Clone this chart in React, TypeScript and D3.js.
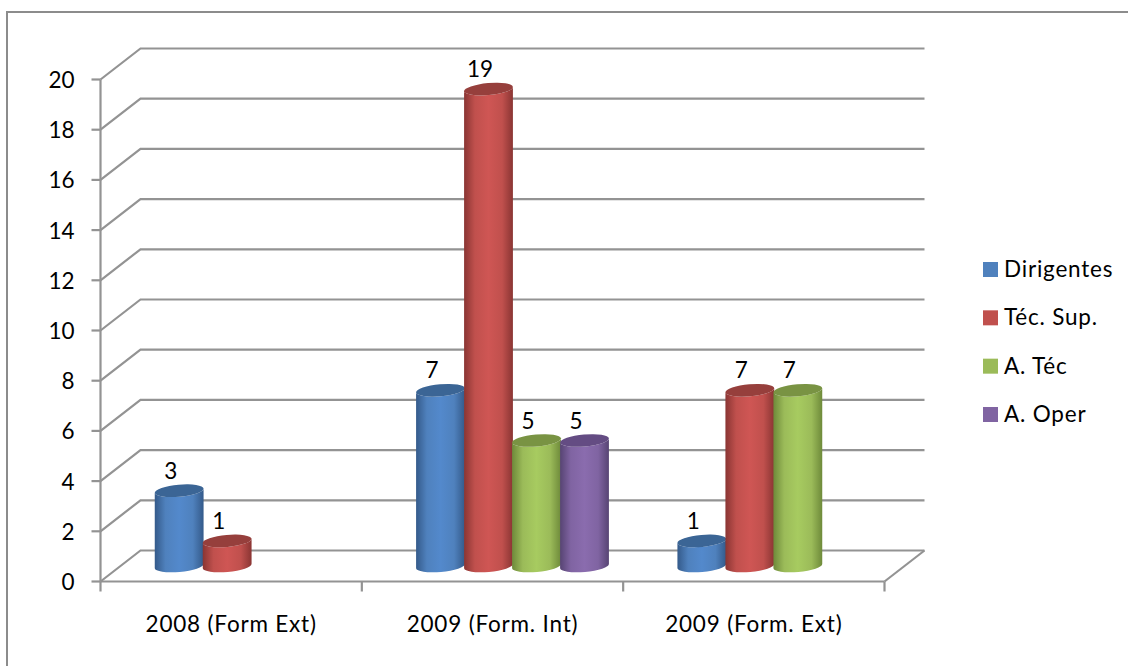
import React from "react";
import * as d3 from "d3";

const categories = ["2008 (Form Ext)", "2009 (Form. Int)", "2009 (Form. Ext)"];
const seriesNames = ["Dirigentes", "Téc. Sup.", "A. Téc", "A. Oper"];
const dirigentes = [3, 7, 1];
const tecSup = [1, 19, 7];
const aTec = [null, 5, 7];
const aOper = [null, 5, null];
const seriesValues = [dirigentes, tecSup, aTec, aOper];
const yTicks = [0, 2, 4, 6, 8, 10, 12, 14, 16, 18, 20];

const baseColors = ["#4f81bd", "#c0504d", "#9bbb59", "#8064a2"];
const lightColors = ["#5389cc", "#cf5654", "#a7cb60", "#8a6cae"];
const darkColors = ["#345a8a", "#8a3533", "#6e8a3a", "#574473"];
const capColors = ["#3b6595", "#963f3c", "#799343", "#644c83"];

const FONT = "Lato, Carlito, Calibri, sans-serif";
const GRID = "#939393";
const DEPTH_X = 40;
const DEPTH_Y = 31;
const SIZE = 22.5;
const SPACING = 0.8;

const y = d3.scaleLinear().domain([0, 20]).range([581.5, 79.5]);
const x = d3.scaleBand<string>().domain(categories).range([100.5, 884.5]);
const slot = d3.scaleBand<number>().domain([0, 1, 2, 3]).range([0, 192]);
const legendY = d3.scalePoint<string>().domain(seriesNames).range([269.5, 414.5]);

// Cylinder caps are ellipses tipped slightly, right side up.
const RY = 6;
const TILT = -5;
const RAD = (TILT * Math.PI) / 180;

function Cylinder({ cx, rx, value, s }: { cx: number; rx: number; value: number; s: number }) {
  const topY = y(value) - DEPTH_Y / 2;
  const botY = y(0) - DEPTH_Y / 2;
  const dx = rx * Math.cos(RAD);
  const dy = rx * Math.sin(RAD);
  const arc = `A${rx} ${RY} ${TILT}`;
  const body =
    `M${cx - dx} ${topY - dy}L${cx - dx} ${botY - dy}` +
    `${arc} 0 0 ${cx + dx} ${botY + dy}L${cx + dx} ${topY + dy}` +
    `${arc} 0 1 ${cx - dx} ${topY - dy}Z`;
  return (
    <g>
      <path d={body} fill={`url(#cyl${s})`} />
      <ellipse
        cx={cx}
        cy={topY}
        rx={rx}
        ry={RY}
        fill={capColors[s]}
        transform={`rotate(${TILT} ${cx} ${topY})`}
      />
    </g>
  );
}

export default function App() {
  const barW = slot.bandwidth();
  const groupLeft = (c: string) =>
    (x(c) as number) + DEPTH_X / 2 + (x.bandwidth() - 192) / 2;

  return (
    <svg
      width={1128}
      height={666}
      style={{ position: "absolute", left: 0, top: 0, background: "#fff" }}
      fontFamily={FONT}
    >
      <defs>
        {baseColors.map((_, s) => (
          <linearGradient key={s} id={`cyl${s}`} x1="0" x2="1" y1="0" y2="0">
            <stop offset="0" stopColor={darkColors[s]} />
            <stop offset="0.22" stopColor={baseColors[s]} />
            <stop offset="0.5" stopColor={lightColors[s]} />
            <stop offset="0.78" stopColor={baseColors[s]} />
            <stop offset="1" stopColor={darkColors[s]} />
          </linearGradient>
        ))}
      </defs>

      {/* Chart frame: only the top and left edges fall inside the page */}
      <path d="M7 666V12H1128" fill="none" stroke="#8c8c8c" strokeWidth={2} />

      {/* Walls and floor */}
      <g fill="none" stroke={GRID} strokeWidth={2.2}>
        {yTicks.map((t) => (
          <g key={t}>
            <path
              d={`M${x.range()[0]} ${y(t)}L${x.range()[0] + DEPTH_X} ${y(t) - DEPTH_Y}L${x.range()[1] + DEPTH_X} ${y(t) - DEPTH_Y}`}
            />
            <line x1={x.range()[0] - 9} x2={x.range()[0]} y1={y(t)} y2={y(t)} />
          </g>
        ))}
        <line x1={x.range()[0]} x2={x.range()[0]} y1={y(20)} y2={y(0)} />
        <line x1={x.range()[0]} x2={x.range()[1]} y1={y(0)} y2={y(0)} />
        <line
          x1={x.range()[1]}
          x2={x.range()[1] + DEPTH_X}
          y1={y(0)}
          y2={y(0) - DEPTH_Y}
        />
        {[...categories.map((c) => x(c) as number), x.range()[1]].map((px) => (
          <line key={px} x1={px} x2={px} y1={y(0)} y2={y(0) + 10} />
        ))}
      </g>

      {/* Cylinders */}
      {categories.map((c, ci) => (
        <g key={c}>
          {seriesValues.map((vals, s) => {
            const v = vals[ci];
            if (v == null) return null;
            const cx = groupLeft(c) + (slot(s) as number) + barW / 2;
            return <Cylinder key={s} cx={cx} rx={barW / 2 + 0.5} value={v} s={s} />;
          })}
        </g>
      ))}

      {/* Value labels */}
      <g fontSize={SIZE} fill="#000" textAnchor="middle">
        {categories.map((c, ci) =>
          seriesValues.map((vals, s) => {
            const v = vals[ci];
            if (v == null) return null;
            const cx = groupLeft(c) + (slot(s) as number) + barW / 2;
            return (
              <text key={`${c}${s}`} x={cx - 8.5} y={y(v) - 27.5}>
                {v}
              </text>
            );
          })
        )}
      </g>

      {/* Value axis labels */}
      <g fontSize={SIZE} fill="#000" textAnchor="end">
        {yTicks.map((t) => (
          <text key={t} x={74.5} y={y(t) + 8.5}>
            {t}
          </text>
        ))}
      </g>

      {/* Category labels */}
      <g fontSize={SIZE} fill="#000" textAnchor="middle" letterSpacing={SPACING}>
        {categories.map((c) => (
          <text key={c} x={(x(c) as number) + x.bandwidth() / 2} y={632}>
            {c}
          </text>
        ))}
      </g>

      {/* Legend */}
      <g fontSize={SIZE} fill="#000" letterSpacing={SPACING}>
        {seriesNames.map((n, s) => {
          const ly = legendY(n) as number;
          return (
            <g key={n}>
              <rect x={983} y={ly - 7.5} width={15} height={15} fill={baseColors[s]} />
              <text x={1004} y={ly + 7.5}>
                {n}
              </text>
            </g>
          );
        })}
      </g>
    </svg>
  );
}
